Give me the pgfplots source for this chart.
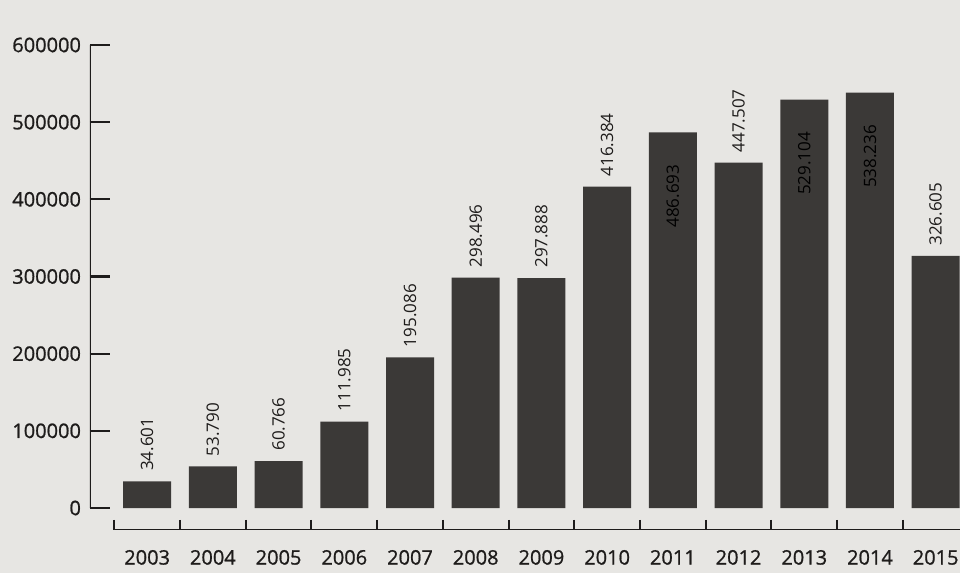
\documentclass[border=0pt]{standalone}
\usepackage{pgfplots}
\pgfplotsset{compat=1.18}
\usepackage{fontspec}
\setmainfont{Open Sans}
\newfontfamily\sbfont[FakeBold=0.9]{Open Sans}
\definecolor{paper}{HTML}{E7E6E3}
\definecolor{barc}{HTML}{3B3937}
\definecolor{ink}{HTML}{1E1C1B}
\begin{document}
\begin{tikzpicture}
\path[use as bounding box, fill=paper] (-45pt,-21.5pt) rectangle (435pt,265pt);
\begin{axis}[
  scale only axis, width=435pt, height=242.5pt,
  xmin=-0.87, xmax=12.37, ymin=-28500, ymax=600000,
  axis line style={draw=none},
  xtick pos=bottom, ytick pos=left,
  tick align=inside,
  scaled y ticks=false,
  xtick={0,...,12},
  xticklabels={2003,2004,2005,2006,2007,2008,2009,2010,2011,2012,2013,2014,2015},
  major x tick style={draw=none},
  minor xtick={-0.5,0.5,...,11.5},
  minor x tick style={ink, line width=1pt},
  minor tick length=-5pt,
  ytick={0,100000,200000,300000,400000,500000,600000},
  yticklabels={0,100000,200000,300000,400000,500000,600000},
  ytick style={ink, line width=1.1pt},
  major tick length=10pt,
  tick label style={font=\sbfont\fontsize{10}{12}\selectfont, text=ink},
  xticklabel style={yshift=3.5pt},
  yticklabel style={xshift=-1pt},
  ybar, bar width=24pt, bar shift=0pt,
  point meta=explicit symbolic,
  nodes near coords,
  every node near coord/.append style={font=\fontsize{8.5}{10}\selectfont, text=ink},
]
\addplot[fill=barc, draw=none,
  nodes near coords style={rotate=90, anchor=west, inner xsep=5pt, inner ysep=0pt}]
  coordinates {
  (0,34601) [34.601]
  (1,53790) [53.790]
  (2,60766) [60.766]
  (3,111985) [111.985]
  (4,195086) [195.086]
  (5,298496) [298.496]
  (6,297888) [297.888]
  (7,416384) [416.384]
  (9,447507) [447.507]
  (12,326605) [326.605]
};
\addplot[fill=barc, draw=none,
  nodes near coords style={rotate=90, anchor=east, inner xsep=16pt, inner ysep=0pt, text=black}]
  coordinates {
  (8,486693) [486.693]
  (10,529104) [529.104]
  (11,538236) [538.236]
};
\draw[ink, line width=1.1pt] (axis cs:-0.87,600000) -- (axis cs:-0.87,0);
\draw[ink, line width=1.1pt] (axis cs:-0.5,-28500) -- (axis cs:12.37,-28500);
\end{axis}
\end{tikzpicture}
\end{document}
